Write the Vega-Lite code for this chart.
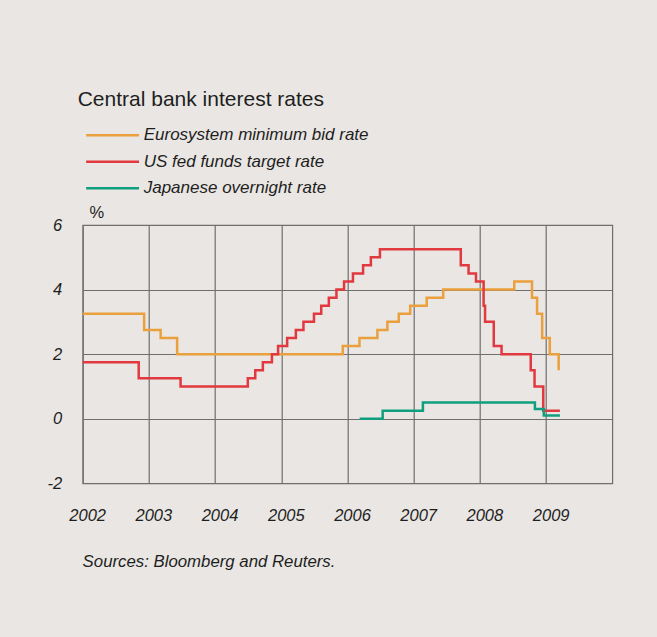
{
  "$schema": "https://vega.github.io/schema/vega-lite/v6.json",
  "autosize": {"type": "none"},
  "width": 529.6,
  "height": 258.3,
  "padding": {"left": 82.7, "top": 225, "right": 44.7, "bottom": 153.7},
  "background": "#e9e6e3",
  "title": {
    "text": "Central bank interest rates",
    "anchor": "start",
    "frame": "group",
    "dx": -5,
    "dy": 19.5,
    "offset": 19,
    "baseline": "alphabetic",
    "font": "Liberation Sans",
    "fontSize": 21,
    "fontWeight": "normal",
    "color": "#1e1e1e"
  },
  "config": {
    "view": {"stroke": "#6f6f6f", "strokeWidth": 1.2},
    "font": "Liberation Sans"
  },
  "data": {
    "values": [
      {"series": "Eurosystem minimum bid rate", "date": "2002-01-01", "rate": 3.25},
      {"series": "Eurosystem minimum bid rate", "date": "2002-12-06", "rate": 2.75},
      {"series": "Eurosystem minimum bid rate", "date": "2003-03-07", "rate": 2.5},
      {"series": "Eurosystem minimum bid rate", "date": "2003-06-06", "rate": 2.0},
      {"series": "Eurosystem minimum bid rate", "date": "2005-12-06", "rate": 2.25},
      {"series": "Eurosystem minimum bid rate", "date": "2006-03-08", "rate": 2.5},
      {"series": "Eurosystem minimum bid rate", "date": "2006-06-15", "rate": 2.75},
      {"series": "Eurosystem minimum bid rate", "date": "2006-08-09", "rate": 3.0},
      {"series": "Eurosystem minimum bid rate", "date": "2006-10-11", "rate": 3.25},
      {"series": "Eurosystem minimum bid rate", "date": "2006-12-13", "rate": 3.5},
      {"series": "Eurosystem minimum bid rate", "date": "2007-03-14", "rate": 3.75},
      {"series": "Eurosystem minimum bid rate", "date": "2007-06-13", "rate": 4.0},
      {"series": "Eurosystem minimum bid rate", "date": "2008-07-09", "rate": 4.25},
      {"series": "Eurosystem minimum bid rate", "date": "2008-10-15", "rate": 3.75},
      {"series": "Eurosystem minimum bid rate", "date": "2008-11-12", "rate": 3.25},
      {"series": "Eurosystem minimum bid rate", "date": "2008-12-10", "rate": 2.5},
      {"series": "Eurosystem minimum bid rate", "date": "2009-01-21", "rate": 2.0},
      {"series": "Eurosystem minimum bid rate", "date": "2009-03-11", "rate": 1.5},
      {"series": "US fed funds target rate", "date": "2002-01-01", "rate": 1.75},
      {"series": "US fed funds target rate", "date": "2002-11-06", "rate": 1.25},
      {"series": "US fed funds target rate", "date": "2003-06-25", "rate": 1.0},
      {"series": "US fed funds target rate", "date": "2004-06-30", "rate": 1.25},
      {"series": "US fed funds target rate", "date": "2004-08-10", "rate": 1.5},
      {"series": "US fed funds target rate", "date": "2004-09-21", "rate": 1.75},
      {"series": "US fed funds target rate", "date": "2004-11-10", "rate": 2.0},
      {"series": "US fed funds target rate", "date": "2004-12-14", "rate": 2.25},
      {"series": "US fed funds target rate", "date": "2005-02-02", "rate": 2.5},
      {"series": "US fed funds target rate", "date": "2005-03-22", "rate": 2.75},
      {"series": "US fed funds target rate", "date": "2005-05-03", "rate": 3.0},
      {"series": "US fed funds target rate", "date": "2005-06-30", "rate": 3.25},
      {"series": "US fed funds target rate", "date": "2005-08-09", "rate": 3.5},
      {"series": "US fed funds target rate", "date": "2005-09-20", "rate": 3.75},
      {"series": "US fed funds target rate", "date": "2005-11-01", "rate": 4.0},
      {"series": "US fed funds target rate", "date": "2005-12-13", "rate": 4.25},
      {"series": "US fed funds target rate", "date": "2006-01-31", "rate": 4.5},
      {"series": "US fed funds target rate", "date": "2006-03-28", "rate": 4.75},
      {"series": "US fed funds target rate", "date": "2006-05-10", "rate": 5.0},
      {"series": "US fed funds target rate", "date": "2006-06-29", "rate": 5.25},
      {"series": "US fed funds target rate", "date": "2007-09-18", "rate": 4.75},
      {"series": "US fed funds target rate", "date": "2007-10-31", "rate": 4.5},
      {"series": "US fed funds target rate", "date": "2007-12-11", "rate": 4.25},
      {"series": "US fed funds target rate", "date": "2008-01-22", "rate": 3.5},
      {"series": "US fed funds target rate", "date": "2008-01-30", "rate": 3.0},
      {"series": "US fed funds target rate", "date": "2008-03-18", "rate": 2.25},
      {"series": "US fed funds target rate", "date": "2008-04-30", "rate": 2.0},
      {"series": "US fed funds target rate", "date": "2008-10-08", "rate": 1.5},
      {"series": "US fed funds target rate", "date": "2008-10-29", "rate": 1.0},
      {"series": "US fed funds target rate", "date": "2008-12-16", "rate": 0.25},
      {"series": "US fed funds target rate", "date": "2009-03-18", "rate": 0.25},
      {"series": "Japanese overnight rate", "date": "2006-03-09", "rate": 0.0},
      {"series": "Japanese overnight rate", "date": "2006-07-14", "rate": 0.25},
      {"series": "Japanese overnight rate", "date": "2007-02-21", "rate": 0.5},
      {"series": "Japanese overnight rate", "date": "2008-10-31", "rate": 0.3},
      {"series": "Japanese overnight rate", "date": "2008-12-19", "rate": 0.1},
      {"series": "Japanese overnight rate", "date": "2009-03-18", "rate": 0.1}
    ]
  },
  "mark": {"type": "line", "interpolate": "step-after", "strokeWidth": 2.5},
  "encoding": {
    "x": {
      "field": "date",
      "type": "temporal",
      "scale": {"type": "utc", "domain": [{"year": 2002, "utc": true}, {"year": 2010, "utc": true}]},
      "axis": {
        "values": [
          {"year": 2002, "utc": true}, {"year": 2003, "utc": true}, {"year": 2004, "utc": true},
          {"year": 2005, "utc": true}, {"year": 2006, "utc": true}, {"year": 2007, "utc": true},
          {"year": 2008, "utc": true}, {"year": 2009, "utc": true}
        ],
        "format": "%Y",
        "formatType": "utc",
        "domain": false,
        "ticks": false,
        "grid": true,
        "gridColor": "#6f6f6f",
        "gridWidth": 1.2,
        "gridOpacity": 1,
        "labelAlign": "center",
        "labelOffset": 4.5,
        "labelBaseline": "top",
        "labelPadding": 24.5,
        "labelFlush": false,
        "labelFont": "Liberation Sans",
        "labelFontSize": 16.5,
        "labelFontStyle": "italic",
        "labelColor": "#1e1e1e",
        "title": "Sources: Bloomberg and Reuters.",
        "titleAnchor": "start",
        "titleAlign": "left",
        "titleBaseline": "alphabetic",
        "titleX": -0.6,
        "titleY": 83.2,
        "titleFont": "Liberation Sans",
        "titleFontSize": 16.8,
        "titleFontStyle": "italic",
        "titleFontWeight": "normal",
        "titleColor": "#1e1e1e"
      }
    },
    "y": {
      "field": "rate",
      "type": "quantitative",
      "scale": {"domain": [-2, 6], "nice": false, "zero": false},
      "axis": {
        "values": [-2, 0, 2, 4, 6],
        "labelExpr": "toString(datum.value)",
        "domain": false,
        "ticks": false,
        "grid": true,
        "gridColor": "#6f6f6f",
        "gridWidth": 1.2,
        "gridOpacity": 1,
        "labelPadding": 21,
        "labelFont": "Liberation Sans",
        "labelFontSize": 16.5,
        "labelFontStyle": "italic",
        "labelColor": "#1e1e1e",
        "title": "%",
        "titleAngle": 0,
        "titleAlign": "left",
        "titleBaseline": "alphabetic",
        "titleX": 6.3,
        "titleY": -7.3,
        "titleFont": "Liberation Sans",
        "titleFontSize": 16.5,
        "titleFontWeight": "normal",
        "titleColor": "#1e1e1e"
      }
    },
    "color": {
      "field": "series",
      "type": "nominal",
      "scale": {
        "domain": ["Eurosystem minimum bid rate", "US fed funds target rate", "Japanese overnight rate"],
        "range": ["#eaa03c", "#e2383f", "#0f9f7e"]
      },
      "legend": {
        "title": null,
        "orient": "none",
        "legendX": 21.4,
        "legendY": -98.2,
        "direction": "vertical",
        "padding": 0,
        "symbolType": "M-5,0H5",
        "symbolSize": 112,
        "symbolStrokeWidth": 2.5,
        "labelOffset": 22.6,
        "rowPadding": 8.5,
        "labelFont": "Liberation Sans",
        "labelFontSize": 17,
        "labelFontStyle": "italic",
        "labelColor": "#1e1e1e",
        "labelLimit": 400
      }
    }
  }
}
